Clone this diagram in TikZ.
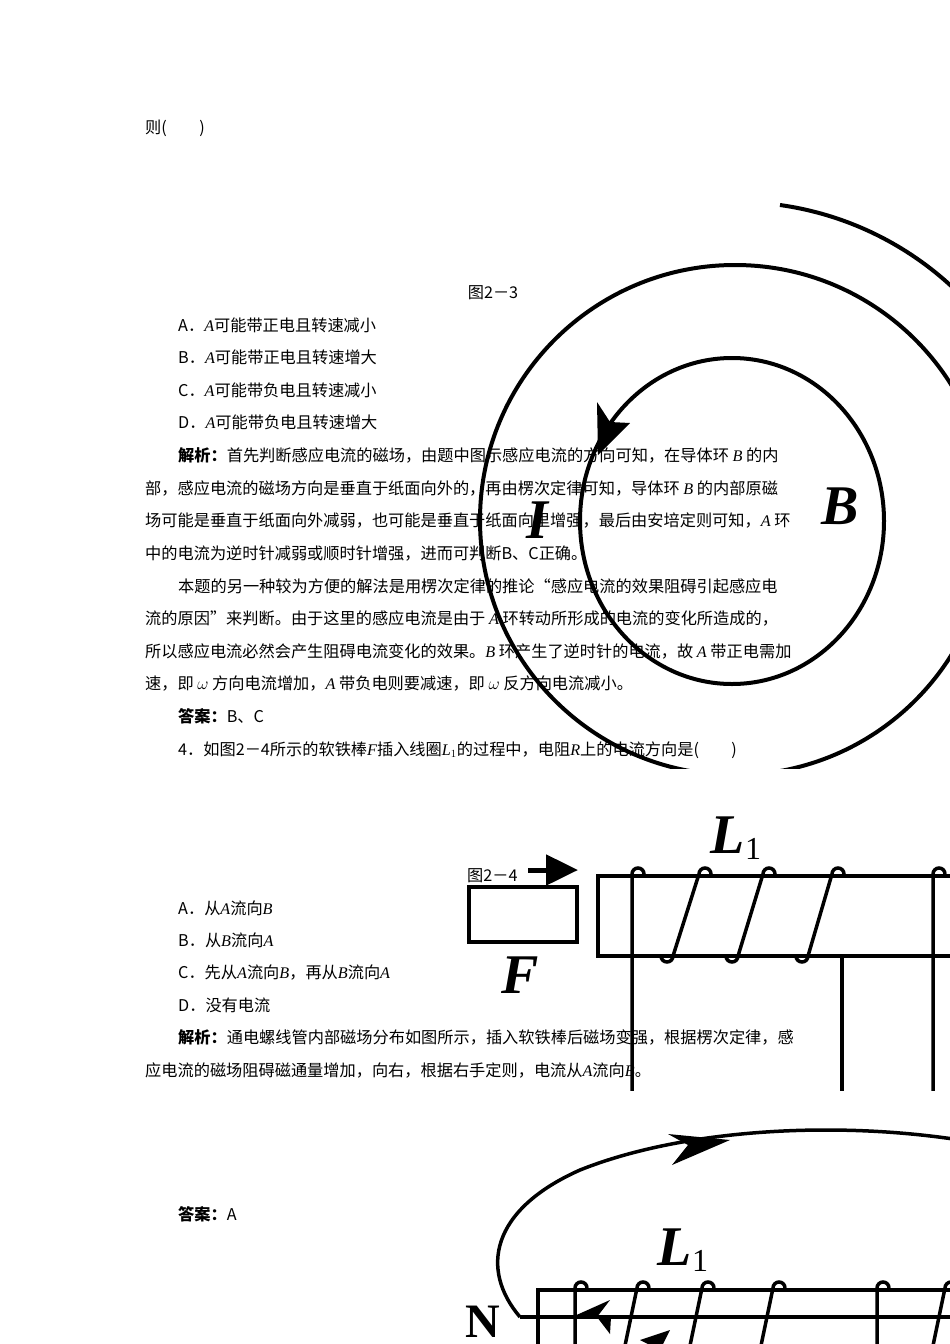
\documentclass[tikz,border=0pt]{standalone}
\usepackage{fontspec}
\setmainfont{Liberation Serif}
\newfontfamily\cj{Noto Sans CJK SC}
\usetikzlibrary{arrows.meta}
\tikzset{ln/.style={anchor=base west,inner sep=0pt,font=\fontsize{16.2}{16}\selectfont\cj},
 fig/.style={line width=4pt},
 coil/.style={line width=3.5pt},
 bighead/.style={-{Triangle[length=32pt,width=30pt]}},
 lab/.style={font=\fontsize{56}{56}\selectfont\bfseries\itshape}}
\newcommand\mi[1]{{\rmfamily\itshape #1}}
\begin{document}
\begin{tikzpicture}[x=1pt,y=-1pt]
\useasboundingbox (0,0) rectangle (950,1344);
\fill[white] (0,0) rectangle (950,1344);
% text
\node[ln] (t0) at (145,133) {则(\qquad)};
\node[ln,anchor=base] (t1) at (493,298) {图2－3};
\node[ln] (t2) at (178,331) {A．\mi{A}可能带正电且转速减小};
\node[ln] (t3) at (178,363) {B．\mi{A}可能带正电且转速增大};
\node[ln] (t4) at (178,396) {C．\mi{A}可能带负电且转速减小};
\node[ln] (t5) at (178,428) {D．\mi{A}可能带负电且转速增大};
\node[ln] (t6) at (178,461) {\textbf{解析：}首先判断感应电流的磁场，由题中图示感应电流的方向可知，在导体环 \mi{B} 的内};
\node[ln] (t7) at (145,494) {部，感应电流的磁场方向是垂直于纸面向外的，再由楞次定律可知，导体环 \mi{B} 的内部原磁};
\node[ln] (t8) at (145,526) {场可能是垂直于纸面向外减弱，也可能是垂直于纸面向里增强，最后由安培定则可知，\mi{A} 环};
\node[ln] (t9) at (145,559) {中的电流为逆时针减弱或顺时针增强，进而可判断B、C正确。};
\node[ln] (t10) at (178,592) {本题的另一种较为方便的解法是用楞次定律的推论“感应电流的效果阻碍引起感应电};
\node[ln] (t11) at (145,624) {流的原因”来判断。由于这里的感应电流是由于 \mi{A} 环转动所形成的电流的变化所造成的，};
\node[ln] (t12) at (145,657) {所以感应电流必然会产生阻碍电流变化的效果。\mi{B} 环产生了逆时针的电流，故 \mi{A} 带正电需加};
\node[ln] (t13) at (145,689) {速，即 $\omega$ 方向电流增加，\mi{A} 带负电则要减速，即 $\omega$ 反方向电流减小。};
\node[ln] (t14) at (178,722) {\textbf{答案：}B、C};
\node[ln] (t15) at (178,755) {4．如图2－4所示的软铁棒\mi{F}插入线圈\mi{L}$_1$的过程中，电阻\mi{R}上的电流方向是(\qquad)};
\node[ln] (t16) at (467,881) {图2－4};
\node[ln] (t17) at (178,914) {A．从\mi{A}流向\mi{B}};
\node[ln] (t18) at (178,946) {B．从\mi{B}流向\mi{A}};
\node[ln] (t19) at (178,978) {C．先从\mi{A}流向\mi{B}，再从\mi{B}流向\mi{A}};
\node[ln] (t20) at (178,1011) {D．没有电流};
\node[ln] (t21) at (178,1043) {\textbf{解析：}通电螺线管内部磁场分布如图所示，插入软铁棒后磁场变强，根据楞次定律，感};
\node[ln] (t22) at (145,1076) {应电流的磁场阻碍磁通量增加，向右，根据右手定则，电流从\mi{A}流向\mi{B}。};
\node[ln] (t23) at (178,1220) {\textbf{答案：}A};
% figure 2-3
\begin{scope}
\clip (470,190) rectangle (950,768);
\draw[fig] (735,520) circle (255);
\draw[fig] (780,205) arc[start angle=-82,end angle=10,radius=318];
\draw[fig] (732,521) ellipse[x radius=152,y radius=163];
\fill (598,455) -- (597,402) -- (610,422) -- (630,423) -- cycle;
\node[lab] (I) at (537,520) {I};
\node[lab] (B) at (840,506) {B};
\end{scope}
% figure 2-4
\begin{scope}
\clip (460,800) rectangle (950,1090);
\draw[fig] (469,887) rectangle (577,942);
\draw[line width=5pt,bighead] (528,870) -- (578,870);
\node[lab] (F) at (520,975) {F};
\node[lab] (L) at (728,838) {L\rlap{\raisebox{-0.25ex}{\fontsize{32}{32}\selectfont\upshape\mdseries 1}}};
\draw[fig] (598,876) rectangle (970,956);
\draw[coil] (632,1095) -- (632,874) arc[start angle=180,end angle=360,radius=6] -- (644,876);
\foreach \a/\b in {669/699,734/763,804/832}{
  \draw[coil] (\a-8,956) arc[start angle=180,end angle=0,radius=6] -- (\b,874)
     arc[start angle=180,end angle=360,radius=6] -- (\b+12,876);
}
\draw[coil] (842,956) -- (842,1095);
\draw[coil] (933,1095) -- (933,874) arc[start angle=180,end angle=360,radius=6];
\end{scope}
% figure bottom
\begin{scope}
\clip (450,1120) rectangle (950,1344);
\draw[fig] (538,1360) -- (538,1290) -- (960,1290);
\draw[coil] (575,1360) -- (575,1288) arc[start angle=180,end angle=360,radius=6];
\draw[coil] (877,1360) -- (877,1288) arc[start angle=180,end angle=360,radius=6];
\foreach \b in {637,702,773,945}{
  \draw[coil] (\b-15,1360) -- (\b,1288) arc[start angle=180,end angle=360,radius=6];
}
\draw[coil] (960,1317) -- (520,1317);
\draw[coil] (520,1317) .. controls (480,1270) and (490,1210) .. (580,1170)
  .. controls (680,1130) and (830,1120) .. (960,1140);
\fill (611,1317) -- (572,1317) -- (610,1300) -- (597,1317) -- (610,1334) -- cycle;
\fill (730,1140) -- (668,1134) -- (688,1145) -- (672,1165) -- cycle;
\fill (670,1330) -- (640,1340) -- (660,1350) -- cycle;
\node[font=\fontsize{48}{48}\selectfont\bfseries] (N) at (483,1322) {N};
\node[lab] (L2) at (675,1250) {L\rlap{\raisebox{-0.25ex}{\fontsize{32}{32}\selectfont\upshape\mdseries 1}}};
\end{scope}
\end{tikzpicture}
\end{document}
